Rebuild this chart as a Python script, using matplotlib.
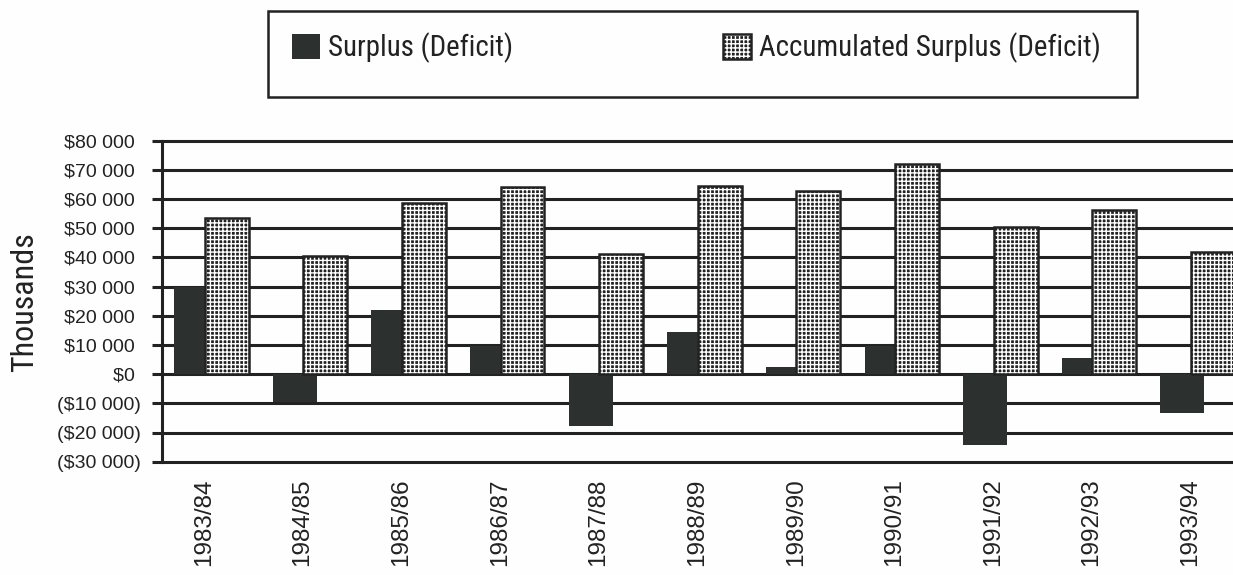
import matplotlib
matplotlib.use("Agg")
import matplotlib.pyplot as plt
from matplotlib.patches import Rectangle
from matplotlib.legend_handler import HandlerTuple
import numpy as np

years = ["1983/84", "1984/85", "1985/86", "1986/87", "1987/88", "1988/89",
         "1989/90", "1990/91", "1991/92", "1992/93", "1993/94"]
surplus = [30000, -9700, 22000, 9800, -17800, 14600, 2400, 9800, -24100, 5500, -13300]
accumulated = [53500, 40400, 58800, 64300, 41200, 64400, 62600, 71900, 50600, 56100, 42000]
yticks = list(range(-30000, 80001, 10000))

ink = "#222222"
dark = "#2c302e"
narrow = ["Nimbus Sans Narrow", "Roboto Condensed", "Archivo Narrow", "Liberation Sans"]
plain = ["Liberation Sans", "DejaVu Sans"]

# white grid over black fill leaves a square grid of dark dots
plt.rcParams["hatch.linewidth"] = 1.0


def money(v):
    s = "${:,}".format(abs(v)).replace(",", " ")
    return "(" + s + ")" if v < 0 else s + " "


fig = plt.figure(figsize=(12.33, 5.75), dpi=100)
fig.patch.set_facecolor("#fefefe")
ax = fig.add_axes([162 / 1233, 0.197, 1085 / 1233, 0.5583])
ax.set_facecolor("none")

x = np.arange(len(years))
w = 0.445
b1 = ax.bar(x - 0.155, surplus, w, color=dark, edgecolor=dark, linewidth=0, zorder=2)
b2 = ax.bar(x + 0.155, accumulated, w, color=ink, edgecolor="white", hatch="++++",
            linewidth=0, zorder=3)
b3 = ax.bar(x + 0.155, accumulated, w, fill=False, edgecolor=ink, linewidth=1.8, zorder=4)

ax.set_xlim(-0.5, 10.5)
ax.set_ylim(-30000, 80000)
ax.set_yticks(yticks)
ax.set_yticklabels([money(v) for v in yticks], family=plain, fontsize=14, color=ink)
ax.set_xticks(x - 0.076)
ax.set_xticklabels(years, rotation=90, family=plain, fontsize=17.5, color=ink)
ax.tick_params(axis="x", length=0, pad=12)
ax.tick_params(axis="y", length=7.5, width=2.2, color=ink, pad=8)
ax.yaxis.grid(True, color=ink, linewidth=2.2)
ax.set_axisbelow(True)
for line in ax.get_ygridlines():
    line.set_clip_on(False)
for side in ["top", "right", "bottom"]:
    ax.spines[side].set_visible(False)
ax.spines["left"].set_linewidth(2.2)
ax.spines["left"].set_color(ink)

fig.text(25 / 1233, 1 - 302 / 575, "Thousands", rotation=90, ha="center", va="center",
         family=narrow, fontsize=23, color=ink)

# legend box across the top
fig.add_artist(Rectangle((268 / 1233, 1 - 97 / 575), 869 / 1233, 86 / 575,
                         transform=fig.transFigure, fill=False, edgecolor=ink,
                         linewidth=1.8))
fig.legend([b1[0], (b2[0], b3[0])], ["Surplus (Deficit)", "Accumulated Surplus (Deficit)"],
           handler_map={tuple: HandlerTuple(ndivide=1)},
           loc="center left", bbox_to_anchor=(292 / 1233, 1 - 48 / 575), ncol=2,
           frameon=False, borderpad=0, borderaxespad=0, handlelength=0.97,
           handleheight=0.97, handletextpad=0.28, columnspacing=7.27,
           prop={"family": narrow, "size": 20.8}, labelcolor=ink)

fig.savefig("out.png", dpi=100, facecolor=fig.get_facecolor())
